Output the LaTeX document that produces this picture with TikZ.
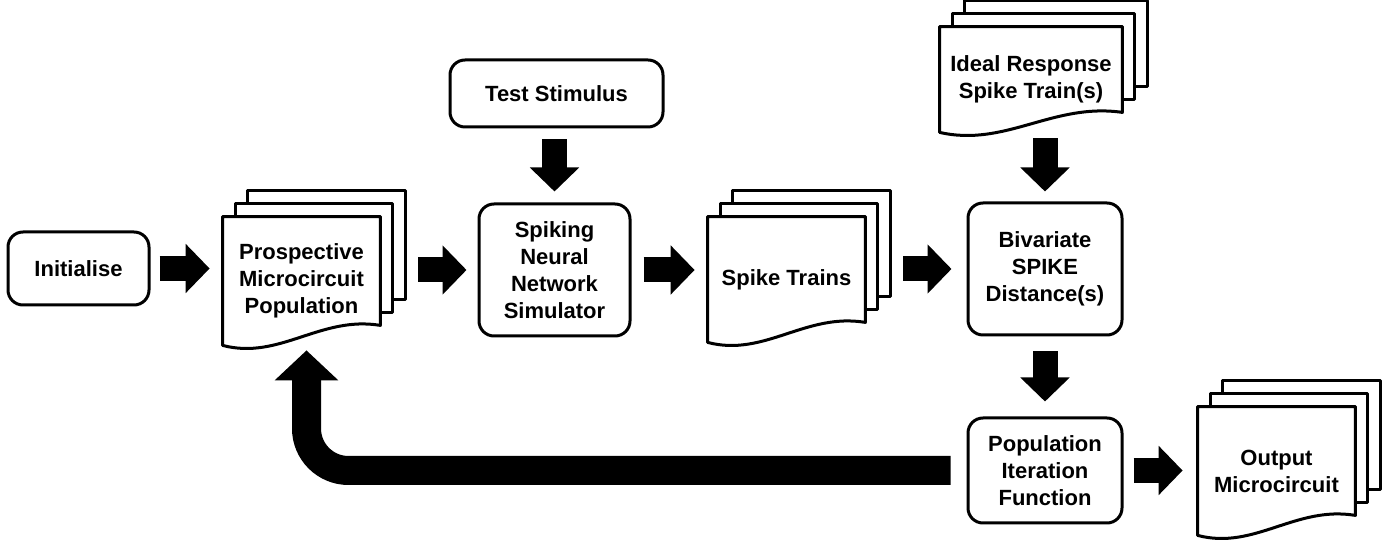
\documentclass[tikz,border=0pt]{standalone}
\usepackage{fontspec}
\setmainfont{Liberation Sans}
\usetikzlibrary{arrows.meta, positioning, calc, backgrounds}
\tikzstyle{block} = [draw, fill=white, rectangle, rounded corners=7.5pt, line width=1.5pt, align=center, inner sep=0pt]
\tikzstyle{doc} = [rectangle, align=center, inner sep=0pt]
\tikzstyle{page} = [draw, fill=white, line width=1.5pt, line join=round]
\tikzstyle{bigarrow} = [line width=12.5pt, -{Triangle[length=12pt, width=24pt]}, shorten <=6pt, shorten >=6pt]
\tikzstyle{feedback} = [line width=14.5pt, -{Triangle[length=15pt, width=31pt]}, rounded corners=21pt, shorten <=8pt, shorten >=2.5pt]
\newcommand{\docstack}[1]{%
  \foreach \k in {2,1}{
    \draw[page] ([shift={(12.5*\k,-13*\k)}]#1.north west) rectangle ([shift={(12.5*\k,-20-13*\k)}]#1.south east);
  }
  \draw[page] (#1.north west) -- (#1.north east) -- ([yshift=10pt]#1.south east)
    .. controls ($(#1.south east)!0.38!(#1.south west)+(0,-30)$) and ($(#1.south west)!0.36!(#1.south east)+(0,15)$) .. (#1.south west) -- cycle;
}

\begin{document}
\begin{tikzpicture}[x=0.5pt, y=-0.5pt, font=\fontsize{11}{13.5}\selectfont\bfseries]
  \useasboundingbox (0,0) rectangle (1388,549);
  \node[block, minimum width=70.5pt, minimum height=36.5pt] (init) at (78.5,268.5) {Initialise};
  \node[doc, minimum width=78.5pt, minimum height=64pt] (prosp) at (301.5,281) {Prospective\\Microcircuit\\Population};
  \node[block, minimum width=106.5pt, minimum height=33.5pt] (stim) at (556.5,93.5) {Test Stimulus};
  \node[block, minimum width=75.5pt, minimum height=66pt] (sim) at (554.5,270) {Spiking\\Neural\\Network\\Simulator};
  \node[doc, minimum width=78.5pt, minimum height=62.5pt] (trains) at (786.5,279.5) {Spike Trains};
  \node[doc, minimum width=91pt, minimum height=52.5pt] (ideal) at (1031,79.5) {Ideal Response\\Spike Train(s)};
  \node[block, minimum width=77pt, minimum height=66pt] (biv) at (1045,269) {Bivariate\\SPIKE\\Distance(s)};
  \node[block, minimum width=77pt, minimum height=52.5pt] (pif) at (1045,470.5) {Population\\Iteration\\Function};
  \node[doc, minimum width=78.5pt, minimum height=64pt] (out) at (1276.5,471) {Output\\Microcircuit};
  \begin{pgfonlayer}{background}
    \foreach \d in {prosp, trains, ideal, out}{
      \docstack{\d}
    }
  \end{pgfonlayer}
  \draw[bigarrow, shorten <=4.5pt, shorten >=6.5pt] (init) -- (prosp.west |- init);
  \draw[bigarrow, shorten <=19pt, shorten >=5.5pt] (prosp.east |- sim) -- (sim);
  \draw[bigarrow, shorten >=6.5pt] (sim) -- (trains.west |- sim);
  \draw[bigarrow, shorten <=19pt, shorten >=7.5pt] (trains.east |- biv) -- (biv);
  \draw[bigarrow, shorten <=5.5pt, shorten >=5.5pt] (stim.south -| sim) -- (sim);
  \draw[bigarrow, shorten <=3pt, shorten >=5pt] (ideal.south -| biv) -- (biv);
  \draw[bigarrow, shorten <=7.5pt, shorten >=7.5pt] (biv) -- (pif);
  \draw[bigarrow, shorten <=5pt, shorten >=7.5pt] (pif) -- (out.west |- pif);
  \draw[feedback] (pif.west) -| ([xshift=2.5pt]prosp.south);
\end{tikzpicture}
\end{document}
